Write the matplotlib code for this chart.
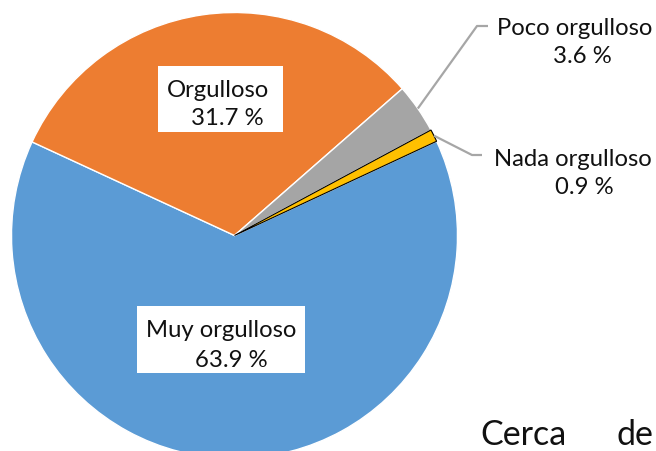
import numpy as np
import matplotlib
matplotlib.use("Agg")
import matplotlib.pyplot as plt
from matplotlib.patches import Rectangle

# Survey shares (percent)
categories = ["Muy orgulloso", "Orgulloso", "Poco orgulloso", "Nada orgulloso"]
shares = [63.9, 31.7, 3.6, 0.9]
value_labels = ["63.9 %", "31.7 %", "3.6 %", "0.9 %"]
colors = ["#5B9BD5", "#ED7D31", "#A5A5A5", "#FFC000"]

W, H = 656, 452
FONT = "Lato"
LABEL_SIZE = 17.2

fig = plt.figure(figsize=(W / 100, H / 100), dpi=100)
ax = fig.add_axes([0, 0, 1, 1])

cx, cy, r = 234.5, H - 236.5, 223
wedges, _ = ax.pie(shares, colors=colors, startangle=25.0, counterclock=False,
                   center=(cx, cy), radius=r,
                   wedgeprops=dict(edgecolor="white", linewidth=1.0))
wedges[3].set_edgecolor("black")
wedges[3].set_linewidth(0.8)
wedges[3].set_zorder(3)

ax.set_xlim(0, W)
ax.set_ylim(0, H)
ax.set_aspect("equal")
ax.axis("off")


def px(x, y):
    return x, H - y


def two_line(x1, y1, t1, x2, y2, t2):
    ax.text(*px(x1, y1), t1, ha="center", va="baseline", fontsize=LABEL_SIZE,
            family=FONT, color="#111111", zorder=6)
    ax.text(*px(x2, y2), t2, ha="center", va="baseline", fontsize=LABEL_SIZE,
            family=FONT, color="#111111", zorder=6)


# Inside labels on white boxes
ax.add_patch(Rectangle(px(158, 133), 125, 66, fc="white", ec="none", zorder=5))
two_line(217.5, 97, categories[1], 227.5, 125, value_labels[1])
ax.add_patch(Rectangle(px(137, 374), 168, 67, fc="white", ec="none", zorder=5))
two_line(221, 337, categories[0], 231, 367, value_labels[0])


def anchor(w):
    mid = np.deg2rad((w.theta1 + w.theta2) / 2)
    return cx + r * np.cos(mid), cy + r * np.sin(mid)


# Outside labels with leader lines
for w, elbow, end in [(wedges[2], (477, 27), (488, 27)),
                      (wedges[3], (472, 156), (482, 156))]:
    ax0, ay0 = anchor(w)
    ex, ey = px(*elbow)
    fx, fy = px(*end)
    ax.plot([ax0, ex, fx], [ay0, ey, fy], color="#A6A6A6", lw=1.6,
            solid_capstyle="butt", zorder=4)

two_line(574.5, 35, categories[2], 582, 63, value_labels[2])
two_line(572.5, 166, categories[3], 584.5, 194, value_labels[3])

# Running body text below the chart
ax.text(*px(480, 445), "Cerca", ha="left", va="baseline", fontsize=24.5,
        family=FONT, color="#111111")
ax.text(*px(617, 445), "de", ha="left", va="baseline", fontsize=24.5,
        family=FONT, color="#111111")

fig.savefig("out.png", dpi=100)
